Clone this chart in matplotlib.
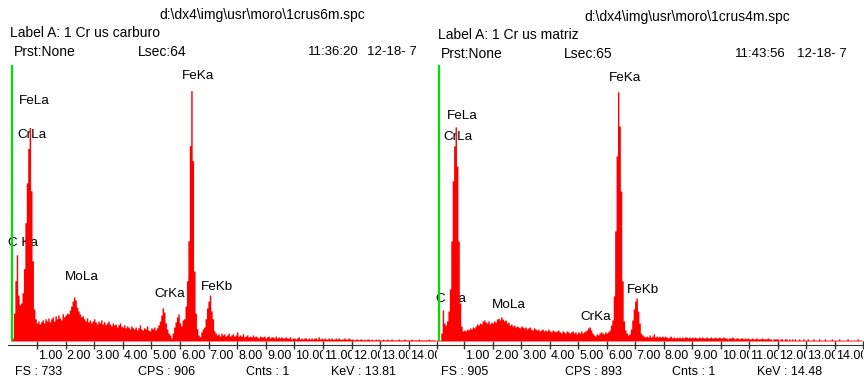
import numpy as np
import matplotlib
matplotlib.use('Agg')
import matplotlib.pyplot as plt
from matplotlib.patches import Rectangle

plt.rcParams['font.family'] = ['Liberation Sans', 'DejaVu Sans']

# channel width of both spectra (keV)
step_kev = 0.05

# left spectrum: 1crus6m.spc (carburo), counts per 0.05 keV channel, 0 .. 14.95 keV
counts_carburo = [
    0, 0, 3, 8, 74, 160, 229, 122, 96, 101,
    128, 192, 314, 420, 511, 567, 399, 213, 85, 59,
    48, 53, 45, 51, 56, 48, 59, 53, 61, 51,
    59, 64, 53, 67, 59, 69, 61, 56, 72, 64,
    69, 74, 72, 82, 93, 106, 117, 109, 90, 80,
    72, 64, 67, 59, 53, 61, 51, 56, 48, 53,
    59, 51, 45, 53, 48, 56, 45, 51, 43, 48,
    53, 45, 40, 48, 43, 45, 37, 43, 48, 40,
    37, 43, 35, 40, 37, 32, 40, 35, 32, 37,
    29, 35, 43, 32, 29, 35, 32, 40, 29, 27,
    35, 32, 37, 29, 35, 43, 53, 69, 88, 77,
    48, 32, 21, 16, 8, 21, 37, 51, 64, 72,
    48, 40, 56, 59, 93, 160, 266, 519, 665, 479,
    186, 74, 32, 16, 11, 24, 32, 37, 59, 88,
    106, 122, 80, 59, 27, 21, 16, 19, 13, 21,
    16, 19, 13, 16, 21, 13, 16, 19, 13, 16,
    24, 13, 16, 13, 19, 11, 13, 16, 11, 13,
    11, 16, 11, 13, 11, 8, 13, 11, 11, 13,
    8, 11, 13, 8, 11, 11, 8, 13, 8, 11,
    8, 11, 8, 8, 11, 8, 8, 11, 5, 8,
    8, 5, 8, 11, 5, 8, 5, 8, 8, 5,
    8, 5, 8, 5, 8, 8, 5, 11, 5, 8,
    5, 8, 5, 5, 8, 5, 8, 5, 5, 8,
    5, 8, 5, 5, 5, 8, 5, 5, 8, 5,
    5, 5, 3, 5, 5, 3, 5, 5, 3, 5,
    3, 5, 5, 3, 5, 3, 3, 5, 3, 5,
    3, 3, 5, 3, 3, 5, 3, 3, 5, 3,
    3, 3, 3, 5, 3, 3, 3, 5, 3, 3,
    3, 3, 5, 3, 3, 3, 3, 5, 3, 3,
    3, 3, 3, 3, 5, 3, 3, 3, 3, 3,
]

# right spectrum: 1crus4m.spc (matriz)
counts_matriz = [
    0, 3, 3, 3, 26, 102, 59, 52, 66, 98,
    171, 328, 525, 640, 702, 574, 328, 125, 49, 33,
    36, 33, 39, 36, 43, 39, 46, 43, 49, 56,
    52, 59, 56, 66, 69, 62, 59, 66, 56, 62,
    59, 66, 62, 72, 75, 69, 79, 72, 66, 69,
    59, 62, 52, 56, 49, 52, 46, 49, 46, 43,
    49, 46, 43, 46, 39, 43, 46, 39, 36, 43,
    39, 36, 39, 33, 36, 39, 33, 36, 33, 39,
    33, 30, 36, 33, 30, 33, 36, 30, 26, 33,
    30, 26, 33, 30, 26, 30, 33, 26, 30, 23,
    30, 26, 33, 26, 30, 33, 36, 43, 46, 36,
    26, 20, 16, 23, 20, 26, 30, 26, 23, 30,
    26, 30, 36, 52, 69, 148, 361, 607, 817, 705,
    492, 197, 66, 36, 26, 20, 23, 39, 69, 105,
    131, 141, 98, 59, 26, 20, 16, 13, 16, 13,
    20, 13, 16, 23, 13, 16, 13, 16, 13, 16,
    13, 16, 13, 10, 13, 16, 10, 13, 10, 13,
    10, 13, 10, 13, 10, 13, 13, 10, 13, 10,
    13, 10, 13, 10, 10, 13, 10, 13, 10, 10,
    13, 10, 10, 13, 10, 10, 13, 10, 10, 13,
    10, 10, 13, 10, 10, 7, 10, 10, 13, 10,
    7, 10, 10, 7, 10, 10, 7, 10, 7, 10,
    7, 7, 10, 7, 7, 10, 7, 7, 7, 10,
    7, 7, 7, 10, 7, 7, 3, 7, 7, 7,
    7, 3, 7, 7, 3, 7, 7, 3, 7, 3,
    7, 3, 7, 3, 3, 7, 3, 3, 7, 3,
    3, 7, 3, 3, 3, 7, 3, 3, 3, 7,
    3, 3, 3, 7, 3, 3, 3, 3, 7, 3,
    3, 3, 3, 7, 3, 3, 3, 3, 3, 7,
    3, 3, 3, 3, 3, 3, 7, 3, 3, 3,
]

# full scale of each spectrum and the marker (green cursor) energy
fs_carburo = 733
fs_matriz = 905
marker_carburo = 0.12
marker_matriz = 0.11

# peak labels: name, keV of label's left edge, height (counts) of label
peak_names = ["FeLa", "CrLa", "C Ka", "MoLa", "CrKa", "FeKa", "FeKb"]
peak_kev_carburo = [0.37, 0.30, 0.0, 1.98, 5.09, 6.07, 6.73]
peak_cnt_carburo = [637, 547, 260, 170, 125, 704, 143]
peak_kev_matriz = [0.39, 0.25, 0.01, 1.97, 5.09, 6.08, 6.71]
peak_cnt_matriz = [738, 669, 138, 118, 79, 863, 167]

kev_ticks = list(range(1, 16))
kev_labels = ["%.2f" % k for k in range(1, 15)]

# header / footer texts
spc_files = [r"d:\dx4\img\usr\moro\1crus6m.spc", r"d:\dx4\img\usr\moro\1crus4m.spc"]
label_a = ["Label A: 1 Cr us carburo", "Label A: 1 Cr us matriz"]
lsec = ["Lsec:64", "Lsec:65"]
clock = ["11:36:20", "11:43:56"]
date = ["12-18- 7", "12-18- 7"]
cps = ["CPS : 906", "CPS : 893"]
kev_cursor = ["KeV : 13.81", "KeV : 14.48"]

W, H = 864, 381
fig = plt.figure(figsize=(W / 100, H / 100), dpi=100)
fig.patch.set_facecolor('white')


def px(x, y):
    # pixel (from top-left) -> figure fraction
    return x / W, 1 - y / H


def draw_spectrum(left_px, width_px, counts, fs, marker, pk_kev, pk_cnt):
    # axis line at 345 px, count 0 at 341 px, full scale at 65 px
    ax = fig.add_axes([left_px / W, (H - 345) / H, width_px / W, 280 / H])
    ax.patch.set_alpha(0)
    energy = np.arange(len(counts)) * step_kev
    ax.fill_between(energy, counts, step='mid', color='#ff0000', lw=0, zorder=2)
    ax.vlines(marker, 0, fs, color='#00e000', lw=1.6, zorder=3)
    for name, k, c in zip(peak_names, pk_kev, pk_cnt):
        ax.text(k, c, name, fontsize=9.7, ha='left', va='center', zorder=1)

    ax.set_xlim(0, 15)
    ax.set_ylim(-4 / 276 * fs, fs)
    for s in ['left', 'right', 'top']:
        ax.spines[s].set_visible(False)
    ax.spines['bottom'].set_color('#333333')
    ax.set_yticks([])
    ax.set_xticks(kev_ticks)
    ax.set_xticklabels([])
    ax.tick_params(axis='x', direction='inout', length=6, width=1, color='#333333')

    # tick labels start at the tick and are cut off at the next tick
    trans = ax.get_xaxis_transform()
    for i, lab in enumerate(kev_labels):
        k = kev_ticks[i]
        t = ax.text(k + 0.04, -11 / 280, lab, transform=trans, fontsize=9,
                    ha='left', va='center', clip_on=True)
        t.set_clip_path(Rectangle((k, -0.2), 1, 0.2, transform=trans))
    return ax


draw_spectrum(8.4, 429, counts_carburo, fs_carburo, marker_carburo,
              peak_kev_carburo, peak_cnt_carburo)
draw_spectrum(435.8, 427.5, counts_matriz, fs_matriz, marker_matriz,
              peak_kev_matriz, peak_cnt_matriz)

# header and footer text, per panel
offs = [(0, 0), (425, 2)]
col_x = [
    (159, 10, 14, 138, 308, 367),
    (584, 438, 441, 564, 735, 797),
]
foot_x = [(15, 138, 246, 331), (441, 565, 672, 757)]
for i in range(2):
    dy = offs[i][1]
    xs = col_x[i]
    fig.text(*px(xs[0], 15.5 + dy), spc_files[i], fontsize=10, va='center')
    fig.text(*px(xs[1], 33 + dy), label_a[i], fontsize=10, va='center')
    fig.text(*px(xs[2], 52 + dy), "Prst:None", fontsize=10, va='center')
    fig.text(*px(xs[3], 52 + dy), lsec[i], fontsize=10, va='center')
    fig.text(*px(xs[4], 52 + dy), clock[i], fontsize=9.5, va='center')
    fig.text(*px(xs[5], 52 + dy), date[i], fontsize=9.5, va='center')

    fx = foot_x[i]
    fs_txt = "FS : %d" % [fs_carburo, fs_matriz][i]
    fig.text(*px(fx[0], 372), fs_txt, fontsize=9, va='center')
    fig.text(*px(fx[1], 372), cps[i], fontsize=9, va='center')
    fig.text(*px(fx[2], 372), "Cnts : 1", fontsize=9, va='center')
    fig.text(*px(fx[3], 372), kev_cursor[i], fontsize=9, va='center')

fig.savefig('out.png', dpi=100)
